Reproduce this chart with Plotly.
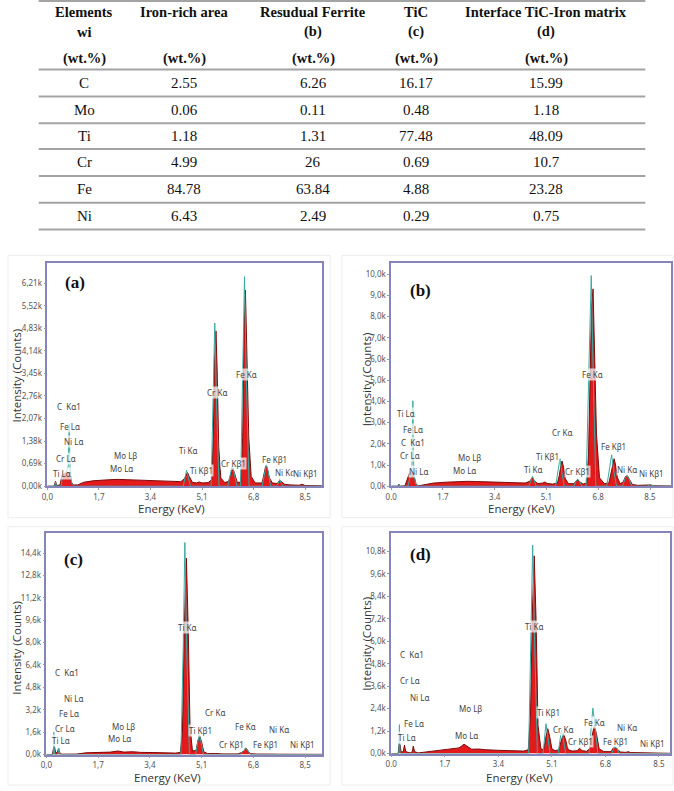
import plotly.graph_objects as go

W, H = 674, 791

# ---------------- table data ----------------
elements = ["C", "Mo", "Ti", "Cr", "Fe", "Ni"]
iron_rich = [2.55, 0.06, 1.18, 4.99, 84.78, 6.43]
residual_ferrite = [6.26, 0.11, 1.31, 26, 63.84, 2.49]
tic = [16.17, 0.48, 77.48, 0.69, 4.88, 0.29]
interface = [15.99, 1.18, 48.09, 10.7, 23.28, 0.75]
header_cols = [
    ["Elements", "wi", "(wt.%)"],
    ["Iron-rich area", "", "(wt.%)"],
    ["Resudual Ferrite", "(b)", "(wt.%)"],
    ["TiC", "(c)", "(wt.%)"],
    ["Interface TiC-Iron matrix", "(d)", "(wt.%)"],
]

# ---------------- spectra data (energy keV, counts) ----------------
a_energy = [0.00, 0.22, 0.27, 0.31, 0.42, 0.48, 0.55, 0.62, 0.68, 0.74, 0.78, 0.85, 1.00, 1.20, 1.50, 1.90, 2.30, 2.60, 3.00, 3.50, 4.00, 4.40, 4.52, 4.58, 4.62, 4.68, 4.78, 4.92, 5.00, 5.10, 5.30, 5.42, 5.47, 5.51, 5.56, 5.60, 5.65, 5.72, 5.85, 5.98, 6.05, 6.11, 6.17, 6.26, 6.38, 6.44, 6.48, 6.53, 6.58, 6.64, 6.72, 6.85, 7.08, 7.15, 7.20, 7.25, 7.32, 7.42, 7.58, 7.66, 7.72, 7.82, 8.00, 8.30, 8.40, 8.50, 9.10]
a_counts = [0, 0, 150, 20, 40, 330, 380, 400, 430, 380, 150, 40, 40, 120, 165, 190, 210, 200, 190, 175, 160, 140, 230, 380, 420, 300, 120, 100, 130, 100, 110, 200, 1500, 3800, 4750, 3500, 1200, 250, 110, 150, 420, 560, 400, 120, 120, 1500, 4500, 6000, 4000, 1500, 300, 100, 100, 400, 620, 560, 250, 100, 80, 180, 140, 60, 40, 30, 60, 20, 10]
a_fit_energy = [0.00, 0.24, 0.27, 0.30, 0.45, 0.50, 0.60, 0.69, 0.72, 0.75, 0.80, 0.90, 4.48, 4.55, 4.59, 4.64, 4.72, 5.40, 5.46, 5.52, 5.58, 5.66, 5.95, 6.03, 6.09, 6.16, 6.25, 6.37, 6.44, 6.50, 6.56, 6.65, 7.08, 7.16, 7.22, 7.28, 7.36, 7.56, 7.66, 7.76, 9.10]
a_fit_counts = [0, 0, 130, 0, 0, 300, 380, 600, 1900, 500, 100, 0, 0, 300, 486, 300, 0, 0, 2500, 4990, 2500, 0, 0, 400, 608, 400, 0, 0, 3500, 6410, 3300, 0, 0, 450, 669, 450, 0, 0, 200, 0, 0]

b_energy = [0.00, 0.22, 0.25, 0.28, 0.45, 0.55, 0.60, 0.65, 0.70, 0.76, 0.82, 0.90, 1.10, 1.40, 1.80, 2.20, 2.50, 2.80, 3.20, 3.60, 4.00, 4.40, 4.55, 4.63, 4.70, 4.82, 4.98, 5.05, 5.12, 5.30, 5.46, 5.52, 5.57, 5.61, 5.66, 5.72, 5.82, 6.00, 6.08, 6.13, 6.18, 6.30, 6.42, 6.48, 6.53, 6.58, 6.63, 6.68, 6.74, 6.84, 7.00, 7.15, 7.21, 7.27, 7.32, 7.37, 7.43, 7.52, 7.62, 7.69, 7.75, 7.81, 7.92, 8.10, 8.45, 8.52, 8.60, 9.20]
b_counts = [0, 0, 100, 0, 20, 400, 620, 700, 650, 400, 80, 20, 60, 150, 190, 220, 230, 220, 200, 185, 170, 150, 230, 400, 250, 120, 150, 200, 130, 100, 150, 500, 950, 1187, 900, 350, 120, 120, 260, 310, 220, 100, 150, 1500, 5000, 8500, 9312, 6500, 2500, 400, 120, 150, 600, 1100, 1297, 1000, 400, 120, 200, 450, 515, 350, 80, 40, 30, 60, 20, 10]
b_fit_energy = [0.00, 0.24, 0.26, 0.28, 0.55, 0.62, 0.68, 0.71, 0.74, 0.80, 0.90, 4.52, 4.60, 4.64, 4.69, 4.76, 5.40, 5.48, 5.54, 5.60, 5.68, 6.00, 6.07, 6.12, 6.18, 6.26, 6.40, 6.50, 6.57, 6.63, 6.72, 7.08, 7.17, 7.24, 7.30, 7.40, 7.60, 7.68, 7.74, 7.80, 7.90, 8.40, 8.52, 8.62, 9.20]
b_fit_counts = [0, 0, 90, 0, 0, 500, 800, 4030, 700, 100, 0, 0, 300, 470, 300, 0, 0, 700, 1297, 700, 0, 0, 250, 330, 250, 0, 0, 6000, 9937, 5500, 0, 0, 800, 1484, 800, 0, 0, 380, 500, 380, 0, 0, 70, 0, 0]

c_energy = [0.00, 0.20, 0.24, 0.27, 0.30, 0.35, 0.40, 0.44, 0.50, 0.70, 1.00, 1.30, 1.70, 2.10, 2.35, 2.55, 2.83, 3.10, 3.50, 3.90, 4.25, 4.40, 4.47, 4.53, 4.60, 4.66, 4.72, 4.80, 4.92, 4.98, 5.04, 5.10, 5.17, 5.30, 5.45, 5.49, 5.55, 5.80, 6.30, 6.42, 6.50, 6.55, 6.61, 6.70, 6.90, 7.15, 7.20, 7.26, 7.60, 9.10]
c_counts = [0, 0, 500, 540, 200, 100, 420, 150, 20, 10, 30, 120, 150, 170, 250, 170, 200, 150, 140, 120, 100, 150, 1500, 9000, 14040, 9000, 2000, 250, 300, 1000, 1326, 900, 200, 60, 80, 110, 70, 40, 40, 150, 400, 474, 300, 60, 30, 40, 70, 30, 20, 10]
c_fit_energy = [0.00, 0.23, 0.25, 0.27, 0.38, 0.41, 0.44, 4.42, 4.50, 4.55, 4.61, 4.70, 4.90, 4.97, 5.02, 5.08, 5.16, 6.38, 6.48, 6.53, 6.60, 6.70, 9.10]
c_fit_counts = [0, 0, 1610, 0, 0, 450, 0, 0, 8000, 15155, 7500, 0, 0, 900, 1421, 900, 0, 0, 350, 450, 350, 0, 0]

d_energy = [0.00, 0.22, 0.25, 0.28, 0.31, 0.38, 0.42, 0.46, 0.60, 0.67, 0.70, 0.74, 0.85, 1.00, 1.30, 1.60, 1.90, 2.15, 2.25, 2.31, 2.40, 2.55, 2.78, 3.00, 3.40, 3.80, 4.20, 4.35, 4.42, 4.48, 4.54, 4.60, 4.66, 4.75, 4.84, 4.90, 4.97, 5.03, 5.10, 5.20, 5.32, 5.40, 5.47, 5.54, 5.62, 5.75, 5.90, 5.98, 6.06, 6.20, 6.30, 6.37, 6.45, 6.52, 6.60, 6.75, 6.98, 7.05, 7.10, 7.16, 7.28, 7.45, 7.52, 7.60, 8.00, 8.30, 8.86]
d_counts = [0, 0, 496, 480, 100, 80, 450, 100, 30, 100, 400, 100, 30, 60, 150, 220, 260, 300, 420, 496, 400, 230, 240, 200, 170, 150, 130, 200, 2000, 7500, 10567, 7000, 1500, 250, 200, 800, 1328, 900, 250, 150, 200, 700, 1062, 700, 200, 130, 150, 280, 150, 120, 250, 900, 1504, 1000, 250, 100, 100, 300, 354, 250, 80, 60, 100, 50, 30, 40, 10]
d_fit_energy = [0.00, 0.24, 0.26, 0.28, 4.36, 4.44, 4.49, 4.55, 4.64, 4.82, 4.87, 4.91, 4.96, 5.04, 5.30, 5.36, 5.40, 5.46, 5.54, 6.28, 6.35, 6.40, 6.46, 6.56, 7.00, 7.06, 7.10, 7.16, 7.24, 8.86]
d_fit_counts = [0, 0, 1540, 0, 0, 6000, 11151, 6000, 0, 0, 1000, 1593, 1000, 0, 0, 800, 1239, 800, 0, 0, 1600, 2425, 1600, 0, 0, 300, 400, 300, 0, 0]

# ---------------- peak labels ----------------
a_labels = ["C  Kα1", "Fe Lα", "Ni Lα", "Cr Lα", "Ti Lα", "Mo Lβ", "Mo Lα", "Ti Kα", "Ti Kβ1", "Cr Kα", "Cr Kβ1", "Fe Kα", "Fe Kβ1", "Ni Kα", "Ni Kβ1"]
a_label_x = [0.71, 0.76, 0.85, 0.63, 0.49, 2.58, 2.45, 4.66, 5.09, 5.58, 6.13, 6.57, 7.48, 7.82, 8.50]
a_label_y = [2441, 1823, 1367, 841, 385, 942, 537, 1094, 486, 2867, 709, 3404, 820, 405, 385]

b_labels = ["Ti Lα", "Fe Lα", "C  Kα1", "Cr Lα", "Ni Lα", "Mo Lβ", "Mo Lα", "Ti Kα", "Ti Kβ1", "Cr Kα", "Cr Kβ1", "Fe Kα", "Fe Kβ1", "Ni Kα", "Ni Kβ1"]
b_label_x = [0.49, 0.73, 0.71, 0.60, 0.89, 2.57, 2.42, 4.67, 5.12, 5.61, 6.13, 6.62, 7.31, 7.74, 8.54]
b_label_y = [3438, 2656, 2047, 1453, 672, 1375, 750, 797, 1406, 2516, 672, 5250, 1890, 797, 594]

c_labels = ["C  Kα1", "Ni Lα", "Fe Lα", "Cr Lα", "Ti Lα", "Mo Lβ", "Mo Lα", "Ti Kα", "Ti Kβ1", "Cr Kα", "Cr Kβ1", "Fe Kα", "Fe Kβ1", "Ni Kα", "Ni Kβ1"]
c_label_x = [0.68, 0.90, 0.74, 0.61, 0.49, 2.53, 2.40, 4.63, 5.06, 5.54, 6.09, 6.55, 7.20, 7.63, 8.43]
c_label_y = [5873, 4026, 2960, 1847, 1018, 1966, 1137, 9070, 1681, 2984, 734, 2036, 734, 1800, 734]

d_labels = ["C  Kα1", "Cr Lα", "Ni Lα", "Mo Lβ", "Fe Lα", "Ti Lα", "Mo Lα", "Ti Kα", "Ti Kβ1", "Cr Kα", "Cr Kβ1", "Fe Kα", "Fe Kβ1", "Ni Kα", "Ni Kβ1"]
d_label_x = [0.65, 0.60, 0.89, 2.52, 0.73, 0.49, 2.38, 4.54, 4.98, 5.44, 6.01, 6.45, 7.11, 7.48, 8.29]
d_label_y = [5310, 3894, 3009, 2390, 1593, 850, 974, 6815, 2213, 1292, 655, 1646, 655, 1380, 531]

# ---------------- ticks ----------------
x_tickvals = [0, 1.7, 3.4, 5.1, 6.8, 8.5]
x_ticktext_comma = ["0,0", "1,7", "3,4", "5,1", "6,8", "8,5"]
x_ticktext_dot = ["0.0", "1.7", "3.4", "5.1", "6.8", "8.5"]
a_yticks = [0, 690, 1380, 2070, 2760, 3450, 4140, 4830, 5520, 6210]
a_yticktext = ["0,00k", "0,69k", "1,38k", "2,07k", "2,76k", "3,45k", "4,14k", "4,83k", "5,52k", "6,21k"]
b_yticks = [0, 1000, 2000, 3000, 4000, 5000, 6000, 7000, 8000, 9000, 10000]
b_yticktext = ["0,0k", "1,0k", "2,0k", "3,0k", "4,0k", "5,0k", "6,0k", "7,0k", "8,0k", "9,0k", "10,0k"]
c_yticks = [0, 1600, 3200, 4800, 6400, 8000, 9600, 11200, 12800, 14400]
c_yticktext = ["0,0k", "1,6k", "3,2k", "4,8k", "6,4k", "8,0k", "9,6k", "11,2k", "12,8k", "14,4k"]
d_yticks = [0, 1200, 2400, 3600, 4800, 6000, 7200, 8400, 9600, 10800]
d_yticktext = ["0,0k", "1,2k", "2,4k", "3,6k", "4,8k", "6,0k", "7,2k", "8,4k", "9,6k", "10,8k"]

# ---------------- layout helpers ----------------
def px(x):
    return x / W

def py(y):
    return 1 - y / H

panels = [
    dict(tag="(a)", e=a_energy, c=a_counts, fe=a_fit_energy, fc=a_fit_counts,
         lab=a_labels, lx=a_label_x, ly=a_label_y, yt=a_yticks, ytt=a_yticktext, xtt=x_ticktext_comma,
         box=(41.7, 265, 319.3, 489.3), xr=9.07, yr=6818, letter=(70, 284),
         ytitle=(11, 378), xtitle=(167, 512), frame=(2, 257, 327, 521)),
    dict(tag="(b)", e=b_energy, c=b_counts, fe=b_fit_energy, fc=b_fit_counts,
         lab=b_labels, lx=b_label_x, ly=b_label_y, yt=b_yticks, ytt=b_yticktext, xtt=x_ticktext_dot,
         box=(388.7, 265, 671.3, 489.3), xr=9.2, yr=10516, letter=(418, 292),
         ytitle=(364, 382), xtitle=(520, 512), frame=(339, 257, 673, 521)),
    dict(tag="(c)", e=c_energy, c=c_counts, fe=c_fit_energy, fc=c_fit_counts,
         lab=c_labels, lx=c_label_x, ly=c_label_y, yt=c_yticks, ytt=c_yticktext, xtt=x_ticktext_comma,
         box=(40.7, 536.7, 319.3, 759.3), xr=9.07, yr=15813, letter=(68, 563),
         ytitle=(11, 652), xtitle=(163, 782), frame=(2, 530, 327, 790)),
    dict(tag="(d)", e=d_energy, c=d_counts, fe=d_fit_energy, fc=d_fit_counts,
         lab=d_labels, lx=d_label_x, ly=d_label_y, yt=d_yticks, ytt=d_yticktext, xtt=x_ticktext_dot,
         box=(388.7, 536, 670.3, 758.3), xr=8.86, yr=11809, letter=(418, 558),
         ytitle=(364, 648), xtitle=(518, 782), frame=(339, 530, 673, 790)),
]

fig = go.Figure()
annotations = []
shapes = []
FRAME = "#8585bb"
RED = "#e3191c"
DARK = "#7d0b0b"
CYAN = "#3aa9a0"

layout_axes = {}
for i, p in enumerate(panels, start=1):
    xa = "x" if i == 1 else f"x{i}"
    ya = "y" if i == 1 else f"y{i}"
    fig.add_trace(go.Scatter(x=p["e"], y=p["c"], xaxis=xa, yaxis=ya, mode="lines",
                             fill="tozeroy", fillcolor=RED, line=dict(color=DARK, width=1),
                             showlegend=False, hoverinfo="skip"))
    fig.add_trace(go.Scatter(x=p["fe"], y=p["fc"], xaxis=xa, yaxis=ya, mode="lines",
                             line=dict(color=CYAN, width=1), showlegend=False, hoverinfo="skip"))
    x0, y0, x1, y1 = p["box"]
    axis_common = dict(showgrid=False, zeroline=False, showline=True, mirror=True,
                       linecolor=FRAME, linewidth=1.5, ticks="outside", ticklen=2,
                       tickcolor="#9a9a9a", tickfont=dict(family="Noto Sans", size=8, color="#555555"))
    layout_axes["xaxis" if i == 1 else f"xaxis{i}"] = dict(
        domain=[px(x0), px(x1)], range=[0, p["xr"]], anchor=ya,
        tickvals=x_tickvals, ticktext=p["xtt"], **axis_common)
    layout_axes["yaxis" if i == 1 else f"yaxis{i}"] = dict(
        domain=[py(y1), py(y0)], range=[0, p["yr"]], anchor=xa,
        tickvals=p["yt"], ticktext=p["ytt"], **axis_common)
    # peak labels
    for t, lx, ly in zip(p["lab"], p["lx"], p["ly"]):
        annotations.append(dict(x=lx, y=ly, xref=xa, yref=ya, text=t, showarrow=False,
                                font=dict(family="Noto Sans", size=8, color="#444444"),
                                bgcolor="rgba(255,255,255,0.7)", borderpad=0))
    # panel letter
    annotations.append(dict(x=px(p["letter"][0]), y=py(p["letter"][1]), xref="paper", yref="paper",
                            text=f"<b>{p['tag']}</b>", showarrow=False, xanchor="center", yanchor="middle",
                            font=dict(family="Liberation Serif", size=17, color="#111111")))
    annotations.append(dict(x=px(p["ytitle"][0]), y=py(p["ytitle"][1]), xref="paper", yref="paper",
                            text="Intensity (Counts)", textangle=-90, showarrow=False,
                            xanchor="center", yanchor="middle",
                            font=dict(family="Open Sans", size=11.5, color="#333333")))
    annotations.append(dict(x=px(p["xtitle"][0]), y=py(p["xtitle"][1]), xref="paper", yref="paper",
                            text="Energy (KeV)", showarrow=False, xanchor="center", yanchor="middle",
                            font=dict(family="Open Sans", size=11.5, color="#333333")))
    fx0, fy0, fx1, fy1 = p["frame"]
    shapes.append(dict(type="rect", xref="paper", yref="paper", x0=px(fx0), x1=px(fx1),
                       y0=py(fy1), y1=py(fy0), line=dict(color="#ededed", width=1), layer="below"))

# ---------------- table ----------------
col_x = [79, 180, 310, 414, 545]
header_y = [12, 32, 59]
row_y = [84, 110.5, 137, 163.5, 190, 217]
rule_y = [1, 70, 97, 124, 150, 177, 204, 231]
table_left, table_right = 33, 645

for cx, lines in zip(col_x, header_cols):
    for hy, txt in zip(header_y, lines):
        if txt:
            annotations.append(dict(x=px(cx), y=py(hy), xref="paper", yref="paper",
                                    text=f"<b>{txt}</b>", showarrow=False, xanchor="center",
                                    yanchor="middle",
                                    font=dict(family="Liberation Serif", size=14.5, color="#111111")))
columns = [elements, [f"{v:g}" for v in iron_rich], [f"{v:g}" for v in residual_ferrite],
           [f"{v:g}" for v in tic], [f"{v:g}" for v in interface]]
for cx, col in zip(col_x, columns):
    for ry, txt in zip(row_y, col):
        annotations.append(dict(x=px(cx), y=py(ry), xref="paper", yref="paper", text=txt,
                                showarrow=False, xanchor="center", yanchor="middle",
                                font=dict(family="Liberation Serif", size=15, color="#111111")))
for ly in rule_y:
    shapes.append(dict(type="line", xref="paper", yref="paper", x0=px(table_left), x1=px(table_right),
                       y0=py(ly), y1=py(ly), line=dict(color="#a3a3a3", width=2)))

fig.update_layout(width=W, height=H, margin=dict(l=0, r=0, t=0, b=0),
                  paper_bgcolor="white", plot_bgcolor="white",
                  annotations=annotations, shapes=shapes, **layout_axes)

fig.write_html("out.html")
